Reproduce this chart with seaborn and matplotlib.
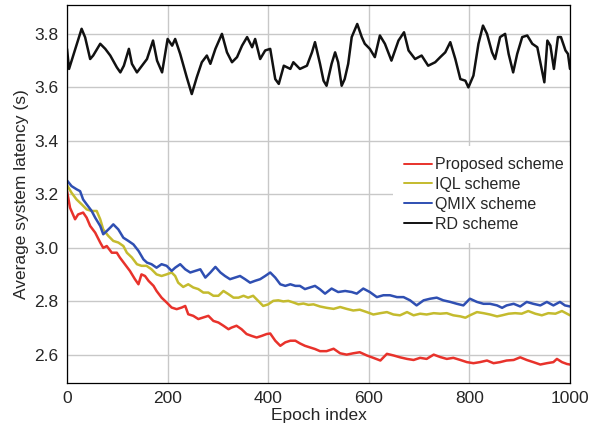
import numpy as np
import pandas as pd
import matplotlib
matplotlib.use("Agg")
import matplotlib.pyplot as plt
import seaborn as sns

# ─── data ────────────────────────────────────────────────────────────────────
rd_epoch = [0, 4, 29, 36, 46, 52, 66, 76, 86, 99, 106, 113, 123, 129, 139, 149, 159, 171, 179, 189,
            200, 209, 215, 225, 238, 248, 258, 268, 278, 285, 295, 308, 318, 328, 338, 348, 358, 368,
            374, 384, 394, 404, 414, 421, 431, 444, 450, 463, 477, 487, 493, 503, 510, 516, 526, 533,
            539, 546, 552, 559, 566, 577, 586, 592, 602, 612, 622, 632, 645, 659, 670, 679, 692, 705,
            718, 732, 742, 752, 762, 772, 782, 792, 798, 808, 818, 827, 835, 845, 851, 861, 871, 878,
            887, 895, 905, 915, 925, 935, 943, 949, 955, 961, 968, 976, 982, 991, 996, 1000]
rd_value = [3.744, 3.669, 3.819, 3.787, 3.706, 3.719, 3.763, 3.744, 3.719, 3.675, 3.656, 3.681, 3.744,
            3.688, 3.656, 3.681, 3.706, 3.775, 3.700, 3.656, 3.781, 3.756, 3.781, 3.725, 3.638, 3.575,
            3.638, 3.694, 3.719, 3.688, 3.744, 3.800, 3.731, 3.694, 3.713, 3.756, 3.788, 3.750, 3.781,
            3.706, 3.738, 3.744, 3.631, 3.613, 3.681, 3.669, 3.694, 3.669, 3.681, 3.731, 3.769, 3.688,
            3.625, 3.606, 3.688, 3.731, 3.694, 3.606, 3.631, 3.688, 3.788, 3.837, 3.788, 3.763, 3.744,
            3.713, 3.794, 3.763, 3.700, 3.775, 3.806, 3.738, 3.706, 3.719, 3.681, 3.694, 3.713, 3.731,
            3.769, 3.706, 3.631, 3.625, 3.600, 3.644, 3.763, 3.831, 3.800, 3.731, 3.706, 3.788, 3.800,
            3.725, 3.656, 3.725, 3.788, 3.794, 3.763, 3.750, 3.675, 3.619, 3.775, 3.756, 3.669, 3.788,
            3.788, 3.738, 3.725, 3.669]

prop_epoch = [0, 6, 16, 22, 32, 39, 46, 56, 66, 72, 79, 89, 99, 105, 115, 125, 135, 142, 148, 155,
              162, 172, 178, 188, 198, 208, 218, 228, 235, 241, 251, 261, 271, 281, 291, 301, 311, 321,
              327, 337, 347, 357, 367, 377, 387, 397, 404, 414, 424, 434, 444, 454, 463, 473, 483, 493,
              503, 516, 530, 543, 556, 569, 582, 596, 609, 623, 636, 649, 662, 676, 689, 702, 715, 729,
              742, 755, 768, 782, 795, 808, 821, 835, 848, 861, 874, 888, 901, 914, 927, 941, 954, 967,
              974, 984, 994, 1000]
prop_value = [3.212, 3.150, 3.107, 3.125, 3.132, 3.113, 3.082, 3.057, 3.020, 3.000, 3.007, 2.982, 2.982,
              2.964, 2.939, 2.914, 2.883, 2.864, 2.901, 2.895, 2.877, 2.858, 2.839, 2.814, 2.796, 2.777,
              2.771, 2.777, 2.783, 2.752, 2.746, 2.734, 2.740, 2.746, 2.727, 2.721, 2.709, 2.696, 2.702,
              2.709, 2.696, 2.678, 2.671, 2.665, 2.671, 2.678, 2.680, 2.653, 2.634, 2.647, 2.653, 2.653,
              2.643, 2.634, 2.628, 2.622, 2.614, 2.614, 2.623, 2.606, 2.601, 2.606, 2.610, 2.598, 2.589,
              2.579, 2.604, 2.598, 2.591, 2.585, 2.581, 2.589, 2.585, 2.601, 2.592, 2.585, 2.589, 2.581,
              2.573, 2.569, 2.573, 2.579, 2.569, 2.573, 2.579, 2.581, 2.591, 2.581, 2.573, 2.564, 2.569,
              2.573, 2.585, 2.573, 2.566, 2.564]

iql_epoch = [0, 9, 19, 29, 39, 49, 59, 66, 72, 82, 92, 102, 112, 119, 129, 139, 148, 158, 168, 178,
             188, 198, 208, 215, 221, 231, 241, 251, 261, 271, 281, 291, 301, 311, 321, 331, 341, 351,
             360, 370, 380, 390, 400, 410, 420, 430, 440, 450, 460, 470, 480, 490, 503, 516, 530, 543,
             556, 569, 582, 596, 609, 623, 636, 649, 662, 676, 689, 702, 715, 729, 742, 755, 768, 782,
             792, 801, 815, 828, 841, 855, 865, 878, 891, 904, 917, 931, 944, 957, 971, 984, 994, 1000]
iql_value = [3.235, 3.206, 3.181, 3.163, 3.144, 3.138, 3.138, 3.107, 3.069, 3.045, 3.026, 3.020, 3.007,
             2.982, 2.964, 2.939, 2.933, 2.933, 2.920, 2.901, 2.895, 2.901, 2.908, 2.895, 2.870, 2.854,
             2.864, 2.852, 2.846, 2.833, 2.833, 2.821, 2.821, 2.839, 2.827, 2.814, 2.814, 2.821, 2.814,
             2.821, 2.802, 2.783, 2.789, 2.802, 2.804, 2.800, 2.802, 2.796, 2.789, 2.792, 2.787, 2.789,
             2.781, 2.776, 2.772, 2.779, 2.772, 2.766, 2.769, 2.760, 2.751, 2.756, 2.760, 2.751, 2.748,
             2.760, 2.748, 2.754, 2.751, 2.756, 2.754, 2.756, 2.748, 2.744, 2.739, 2.748, 2.760, 2.756,
             2.751, 2.744, 2.748, 2.754, 2.756, 2.754, 2.764, 2.754, 2.748, 2.756, 2.754, 2.764, 2.754,
             2.748]

qmix_epoch = [0, 9, 19, 26, 32, 39, 49, 56, 66, 72, 79, 86, 92, 102, 112, 122, 132, 142, 152, 159,
              168, 178, 188, 198, 208, 215, 225, 235, 245, 255, 265, 275, 285, 295, 305, 314, 324, 334,
              344, 354, 364, 374, 384, 394, 404, 414, 424, 434, 444, 454, 463, 473, 483, 493, 503, 513,
              526, 539, 553, 566, 576, 589, 602, 616, 629, 642, 656, 669, 682, 695, 709, 722, 735, 748,
              762, 775, 788, 801, 815, 828, 841, 855, 865, 874, 888, 901, 914, 927, 941, 954, 967, 980,
              990, 1000]
qmix_value = [3.252, 3.231, 3.219, 3.212, 3.181, 3.163, 3.138, 3.113, 3.082, 3.051, 3.063, 3.076, 3.088,
              3.069, 3.038, 3.026, 3.013, 2.989, 2.957, 2.945, 2.939, 2.926, 2.939, 2.933, 2.914, 2.926,
              2.939, 2.920, 2.908, 2.914, 2.920, 2.889, 2.908, 2.929, 2.908, 2.895, 2.883, 2.889, 2.895,
              2.883, 2.870, 2.877, 2.883, 2.895, 2.908, 2.889, 2.864, 2.858, 2.864, 2.858, 2.858, 2.846,
              2.852, 2.858, 2.845, 2.829, 2.848, 2.835, 2.839, 2.835, 2.829, 2.848, 2.835, 2.816, 2.823,
              2.823, 2.816, 2.816, 2.804, 2.785, 2.804, 2.810, 2.814, 2.804, 2.798, 2.791, 2.785, 2.810,
              2.798, 2.791, 2.791, 2.785, 2.776, 2.785, 2.791, 2.781, 2.798, 2.791, 2.785, 2.798, 2.785,
              2.798, 2.785, 2.781]

labels = ["Proposed scheme", "IQL scheme", "QMIX scheme", "RD scheme"]
colors = ["#e8322b", "#c4bb2e", "#2f4fb2", "#111111"]
x_ticks = [0, 200, 400, 600, 800, 1000]
y_ticks = [2.6, 2.8, 3.0, 3.2, 3.4, 3.6, 3.8]

frames = []
for name, ep, val in zip(labels,
                         [prop_epoch, iql_epoch, qmix_epoch, rd_epoch],
                         [prop_value, iql_value, qmix_value, rd_value]):
    frames.append(pd.DataFrame({"Epoch": ep, "Latency": val, "Scheme": name}))
df = pd.concat(frames, ignore_index=True)

sns.set_style("whitegrid")
plt.rcParams["font.family"] = ["Liberation Sans", "DejaVu Sans"]

fig = plt.figure(figsize=(5.9, 4.33), dpi=100)
ax = fig.add_axes([0.1136, 0.1155, 0.8525, 0.873])

sns.lineplot(data=df, x="Epoch", y="Latency", hue="Scheme", hue_order=labels,
             palette=colors, estimator=None, sort=False, linewidth=1.8, ax=ax)

ax.set_xlim(0, 1000)
ax.set_ylim(2.495, 3.908)
ax.set_xticks(x_ticks)
ax.set_yticks(y_ticks)
ax.set_yticklabels([f"{v:.1f}" for v in y_ticks])
ax.set_xlabel("Epoch index", fontsize=12.5, labelpad=1)
ax.set_ylabel("Average system latency (s)", fontsize=12.5, labelpad=4)
ax.tick_params(axis="both", labelsize=12.5, length=4, width=0.8, direction="out",
               color="black", pad=2)
ax.grid(color="#c8c8c8", linewidth=1.0)
for sp in ax.spines.values():
    sp.set_color("black")
    sp.set_linewidth(0.9)

# legend: white box without a visible frame, kept below the spines
leg = ax.legend(loc="upper left", bbox_to_anchor=(0.648, 0.627), borderaxespad=0,
                fontsize=11.5, handlelength=1.75, handletextpad=0.2, labelspacing=0.3,
                borderpad=0.7, frameon=True, fancybox=False, framealpha=1)
leg.get_frame().set_edgecolor("white")
leg.get_frame().set_linewidth(0)
leg.set_zorder(2.2)
for line in leg.get_lines():
    line.set_linewidth(1.4)

fig.savefig("out.png", dpi=100)
